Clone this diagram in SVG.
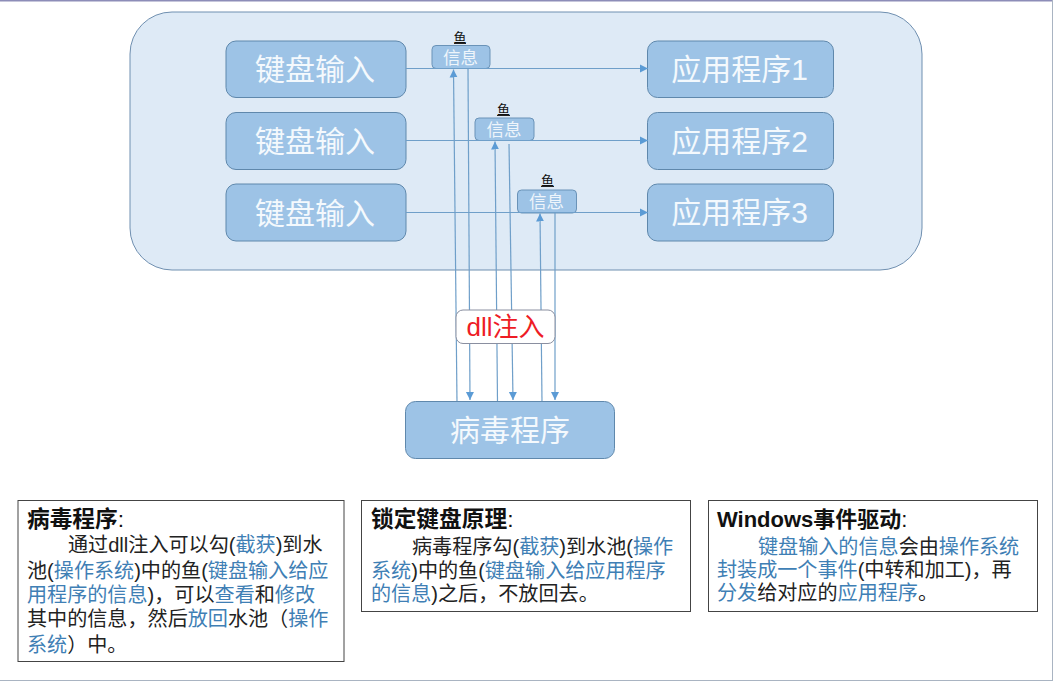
<svg xmlns="http://www.w3.org/2000/svg" width="1053" height="681" viewBox="0 0 1053 681">
<style>
text{font-family:"Liberation Sans","Noto Sans CJK SC",sans-serif}
.n{fill:#9dc3e6;stroke:#5f88ac;stroke-width:1}
.big{fill:#f4f9fd;font-size:30px;text-anchor:middle}
.msg{fill:#9dc3e6;stroke:#6a93b8;stroke-width:1}
.mt{fill:#eef5fb;font-size:17.500px;text-anchor:middle}
.fish{fill:#111;font-size:13px;text-anchor:middle}
.ul{stroke:#222;stroke-width:1}
.box{fill:#fff;stroke:#444;stroke-width:1}
.b{font-size:20.100px;fill:#222}
.h{font-size:22.700px;font-weight:700;fill:#111}
.c{fill:#3f7fb5}
.la{stroke:#6f9fc9;stroke-width:1.200;fill:none;marker-end:url(#a)}
</style>
<defs><marker id="a" markerUnits="userSpaceOnUse" markerWidth="9" markerHeight="9" refX="8" refY="4.500" orient="auto"><path d="M0 0.500L8 4.500L0 8.500z" fill="#5b9bd5"/></marker></defs>
<rect width="1053" height="681" fill="#fff"/>
<path d="M0 0.800H1053" stroke="#8d8db8" stroke-width="1.600"/>
<path d="M1052.500 0V681M0 680.500H1053" stroke="#a9b4c2" stroke-width="1"/>
<g id="pool"><rect x="130" y="12" width="792" height="258" rx="42" fill="#deeaf6" stroke="#6f8fb0" stroke-width="1"/></g>
<g id="k1"><rect class="n" x="226" y="41" width="180" height="56.500" rx="10"/><text class="big" x="315" y="80">键盘输入</text></g>
<g id="k2"><rect class="n" x="226" y="112.500" width="180" height="57" rx="10"/><text class="big" x="315" y="152">键盘输入</text></g>
<g id="k3"><rect class="n" x="226" y="184" width="180" height="57" rx="10"/><text class="big" x="315" y="224">键盘输入</text></g>
<g id="a1"><rect class="n" x="647.500" y="41" width="186" height="56.500" rx="10"/><text class="big" x="739.500" y="80">应用程序1</text></g>
<g id="a2"><rect class="n" x="647.500" y="112.500" width="186" height="57" rx="10"/><text class="big" x="739.500" y="152">应用程序2</text></g>
<g id="a3"><rect class="n" x="647.500" y="184" width="186" height="57" rx="10"/><text class="big" x="739.500" y="223">应用程序3</text></g>
<g id="m1"><rect class="msg" x="432" y="45.500" width="58" height="23" rx="4"/><text class="mt" x="460.500" y="64">信息</text><text class="fish" x="460" y="41.500">鱼</text><path class="ul" d="M454 43.500H466"/></g>
<g id="m2"><rect class="msg" x="475" y="118" width="59" height="22.500" rx="4"/><text class="mt" x="504" y="136">信息</text><text class="fish" x="503.500" y="113.500">鱼</text><path class="ul" d="M497 115.500H510"/></g>
<g id="m3"><rect class="msg" x="517.500" y="190" width="59" height="23" rx="4"/><text class="mt" x="546.500" y="208">信息</text><text class="fish" x="547.500" y="185">鱼</text><path class="ul" d="M541 186.500H554"/></g>
<g id="connectors">
<path class="la" d="M406 68.500H648"/>
<path class="la" d="M406 140.500H648"/>
<path class="la" d="M406 212.500H648"/>
<path class="la" d="M457 402L453.500 69.500"/>
<path class="la" d="M468 69L470 400"/>
<path class="la" d="M497.500 402L495 141.500"/>
<path class="la" d="M509 144L513 400"/>
<path class="la" d="M542 402L540 213.500"/>
<path class="la" d="M555 213L555 400"/>
</g>
<g id="dll"><rect x="456" y="310" width="99" height="33.500" rx="7" fill="#fff" stroke="#8a8fa0" stroke-width="1"/><text x="505.500" y="336" font-size="26" fill="#ee1c25" text-anchor="middle">dll注入</text></g>
<g id="virus"><rect class="n" x="405.500" y="401.500" width="209" height="57" rx="10"/><text class="big" x="510" y="441">病毒程序</text></g>
<g id="box1"><rect class="box" x="18" y="500.500" width="326" height="161"/>
<text class="h" x="27" y="527">病毒程序<tspan font-weight="400">:</tspan></text>
<text class="b" x="68" y="552">通过dll注入可以勾(<tspan class="c">截获</tspan>)到水</text>
<text class="b" x="27" y="578">池(<tspan class="c">操作系统</tspan>)中的鱼(<tspan class="c">键盘输入给应</tspan></text>
<text class="b" x="27" y="602"><tspan class="c">用程序的信息</tspan>)，可以<tspan class="c">查看</tspan>和<tspan class="c">修改</tspan></text>
<text class="b" x="27" y="626">其中的信息，然后<tspan class="c">放回</tspan>水池（<tspan class="c">操作</tspan></text>
<text class="b" x="27" y="652"><tspan class="c">系统</tspan>）中。</text></g>
<g id="box2"><rect class="box" x="361.500" y="500.500" width="329" height="111"/>
<text class="h" x="371" y="527">锁定键盘原理<tspan font-weight="400">:</tspan></text>
<text class="b" x="412" y="554">病毒程序勾(<tspan class="c">截获</tspan>)到水池(<tspan class="c">操作</tspan></text>
<text class="b" x="371" y="578"><tspan class="c">系统</tspan>)中的鱼(<tspan class="c">键盘输入给应用程序</tspan></text>
<text class="b" x="371" y="601"><tspan class="c">的信息</tspan>)之后，不放回去。</text></g>
<g id="box3"><rect class="box" x="708.500" y="500.500" width="329" height="111"/>
<text class="h" x="717" y="527" style="font-size:22px">Windows事件驱动<tspan font-weight="400">:</tspan></text>
<text class="b" x="758" y="554"><tspan class="c">键盘输入的信息</tspan>会由<tspan class="c">操作系统</tspan></text>
<text class="b" x="717" y="577"><tspan class="c">封装成一个事件</tspan>(中转和加工)，再</text>
<text class="b" x="717" y="600"><tspan class="c">分发</tspan>给对应的<tspan class="c">应用程序</tspan>。</text></g>
</svg>
